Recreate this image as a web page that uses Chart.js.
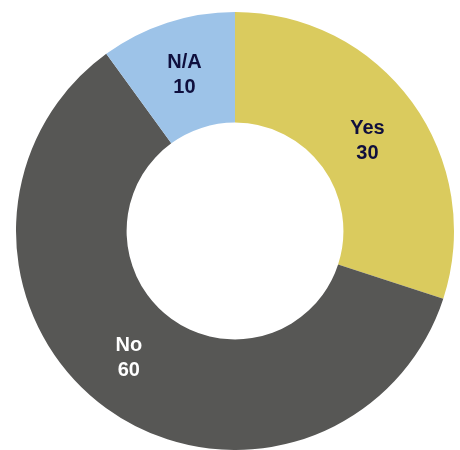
<!DOCTYPE html>
<html>
<head>
<meta charset="utf-8">
<script src="https://cdn.jsdelivr.net/npm/chart.js@4"></script>
<style>
  html, body { margin: 0; padding: 0; background: #ffffff; }
  #wrap { width: 460px; height: 450px; position: relative; }
</style>
</head>
<body>
<div id="wrap"><canvas id="c"></canvas></div>
<script>
// Survey answers shown as a doughnut
const categories = ["Yes", "No", "N/A"];
const counts = [30, 60, 10];
const sliceColors = ["#DACB5E", "#575755", "#9DC3E8"];
const labelColors = ["#0F0F3D", "#FFFFFF", "#0F0F3D"];
// small nudges of each label away from the slice centre (px)
const labelNudge = [[0, 6], [-10, -6], [0, -1]];

// Writes category name and value inside each slice
const sliceLabels = {
  id: "sliceLabels",
  afterDatasetsDraw(chart) {
    const ctx = chart.ctx;
    const meta = chart.getDatasetMeta(0);
    ctx.save();
    ctx.font = "bold 20px 'Liberation Sans', Arial, sans-serif";
    ctx.textAlign = "center";
    ctx.textBaseline = "middle";
    meta.data.forEach((arc, i) => {
      const p = arc.getCenterPoint();
      const x = p.x + labelNudge[i][0];
      const y = p.y + labelNudge[i][1];
      ctx.fillStyle = labelColors[i];
      ctx.fillText(categories[i], x, y - 12);
      ctx.fillText(String(counts[i]), x, y + 13);
    });
    ctx.restore();
  }
};

new Chart(document.getElementById("c"), {
  type: "doughnut",
  data: {
    labels: categories,
    datasets: [{
      data: counts,
      backgroundColor: sliceColors,
      borderWidth: 0,
      hoverOffset: 0
    }]
  },
  options: {
    responsive: true,
    maintainAspectRatio: false,
    animation: false,
    cutout: "49.5%",
    layout: { padding: { left: 16, top: 12, right: 6, bottom: 0 } },
    plugins: {
      legend: { display: false },
      tooltip: { enabled: false }
    }
  },
  plugins: [sliceLabels]
});
</script>
</body>
</html>
